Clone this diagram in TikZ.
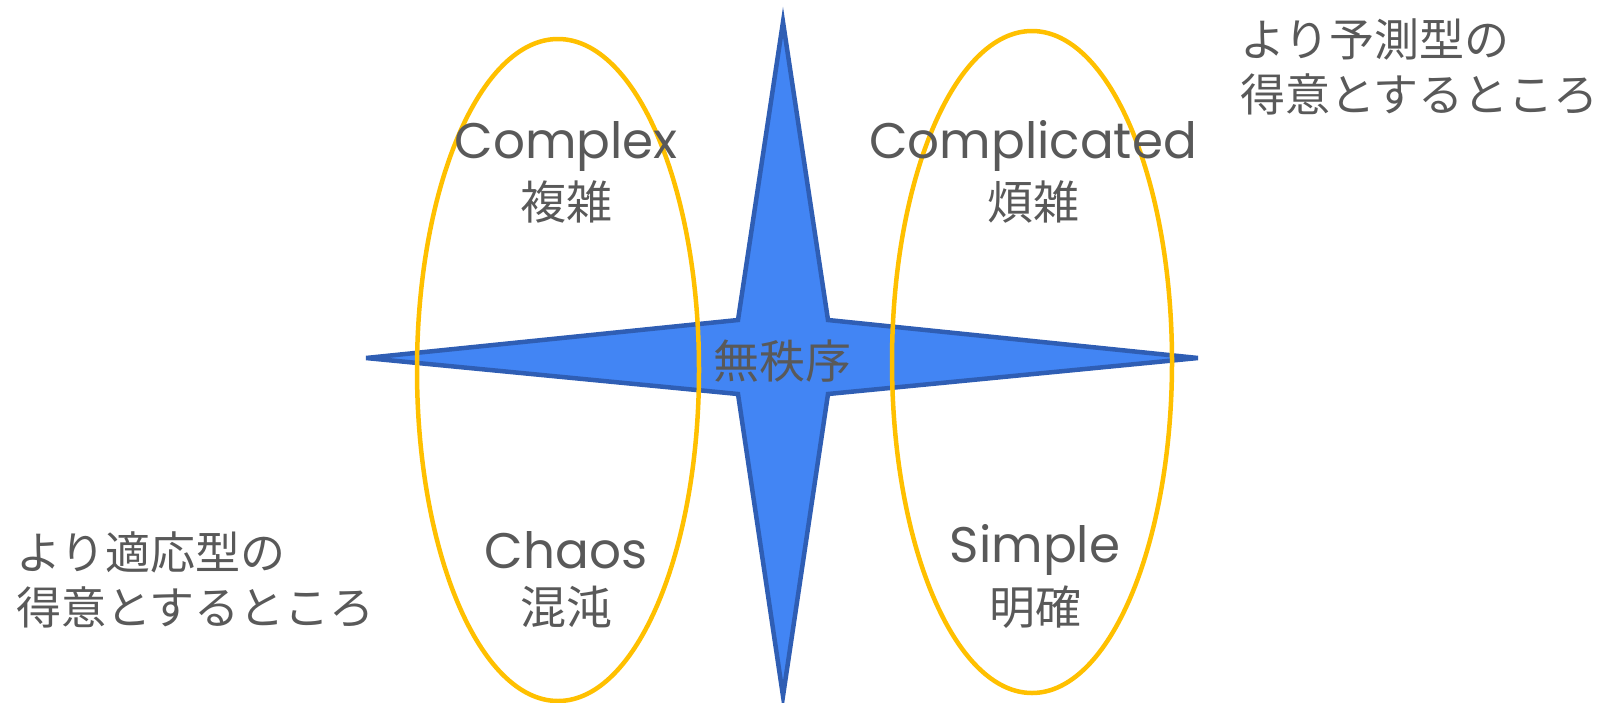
\documentclass[tikz,border=0pt]{standalone}
\usepackage{fontspec}
\setmainfont{Noto Sans CJK JP}
\newfontfamily\latinf{Poppins}
\definecolor{starfill}{RGB}{66,133,244}
\definecolor{starline}{RGB}{47,94,180}
\definecolor{ringcol}{RGB}{255,192,0}
\definecolor{txt}{RGB}{89,89,89}
\begin{document}
\begin{tikzpicture}[x=1pt,y=-1pt,
  ring/.style={draw=ringcol,line width=4.5pt},
  lbl/.style={text=txt,font=\fontsize{46}{50}\selectfont,inner sep=0pt,align=center},
  lat/.style={text=txt,font=\latinf\fontsize{50}{55}\selectfont,inner sep=0pt},
  side/.style={text=txt,font=\fontsize{45}{55}\selectfont,inner sep=0pt,align=left}]
\useasboundingbox (0,0) rectangle (1604,702);
% star
\draw[fill=starfill,draw=starline,line width=4.5pt,line join=miter]
  (783,22) -- (828,320) -- (1198,358) -- (828,394) -- (783,696) -- (738,394) -- (366,358) -- (738,320) -- cycle;
% ellipses
\draw[ring] (558,370) ellipse [x radius=141, y radius=331];
\draw[ring] (1032,362) ellipse [x radius=140, y radius=331];
% texts
\node[lbl] (center) at (782,361) {無秩序};
\node[lat] (cx) at (566,146) {Complex};
\node[lbl] (cxj) at (566,202) {複雑};
\node[lat] (cd) at (1033,146) {Complicated};
\node[lbl] (cdj) at (1033,202) {煩雑};
\node[lat] (ch) at (566,550) {Chaos};
\node[lbl] (chj) at (566,607) {混沌};
\node[lat] (sm) at (1035,550) {Simple};
\node[lbl] (smj) at (1035,607) {明確};
\node[side,anchor=north west] (tr) at (1240,18) {より予測型の\\得意とするところ};
\node[side,anchor=north west] (bl) at (16,531) {より適応型の\\得意とするところ};
\end{tikzpicture}
\end{document}
